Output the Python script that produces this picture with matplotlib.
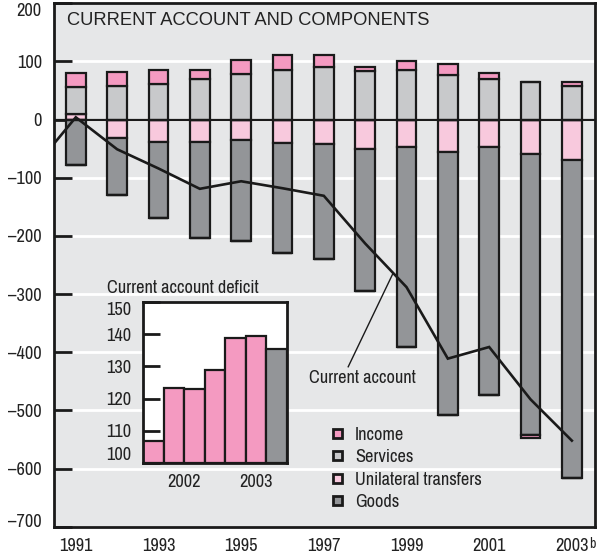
import matplotlib
matplotlib.use("Agg")
import matplotlib.pyplot as plt
from matplotlib.patches import Rectangle
import numpy as np

plt.rcParams['font.family'] = ['Archivo Narrow', 'Roboto Condensed', 'Liberation Sans', 'DejaVu Sans']
TITLE_FONT = ['Liberation Sans', 'DejaVu Sans']

# ---------------- data ----------------
years = [1991, 1992, 1993, 1994, 1995, 1996, 1997, 1998, 1999, 2000, 2001, 2002, 2003]
income = [24, 25, 24.5, 15.5, 24, 25.5, 21.5, 7, 15.5, 19, 11, -4, 5.4]
services = [46, 57, 61.5, 69, 79, 86, 90, 83, 84.5, 77, 69, 65.5, 58.6]
transfers = [10, -32, -38, -38, -35, -41, -42, -50.5, -47.7, -56, -46.5, -59, -69.5]
goods = [-78, -97.5, -132, -166, -174, -188, -198, -244, -344, -451.5, -427.5, -484, -546]

ca_years = [1990, 1991, 1992, 1993, 1994, 1995, 1996, 1997, 1998, 1999, 2000, 2001, 2002, 2003]
current_account = [-82, 4, -51, -84, -119, -106, -118, -131, -213, -288, -411, -391, -481, -552]

xtick_years = [1991, 1993, 1995, 1997, 1999, 2001, 2003]
xtick_labels = ['1991', '1993', '1995', '1997', '1999', '2001', '2003']
yticks = [-700, -600, -500, -400, -300, -200, -100, 0, 100, 200]

inset_values = [106.7, 123.3, 122.9, 128.9, 139.0, 139.6, 135.3]
inset_kinds = ['actual'] * 6 + ['estimate']
inset_yticks = [100, 110, 120, 130, 140, 150]
inset_xlabels = ['2002', '2003']
inset_xlabel_pos = [1.5, 5]

series_names = ['Income', 'Services', 'Unilateral transfers', 'Goods']

# ---------------- style ----------------
C_INCOME = '#f49ac1'
C_SERV = '#c8c9cb'
C_TRANS = '#f8c9dd'
C_GOODS = '#939598'
C_BG = '#e6e7e8'
EDGE = '#1a1a1a'
TXT = '#222222'
FS = 13.2

W, H = 606, 559
fig = plt.figure(figsize=(W / 100, H / 100), dpi=100)
L, R, T, B = 54.3, 595.0, 3.3, 526.7
ax = fig.add_axes([L / W, 1 - B / H, (R - L) / W, (B - T) / H])
ax.set_facecolor(C_BG)
ax.set_xlim(1990.48, 2003.56)
ax.set_ylim(-700, 200)

for v in yticks:
    ax.axhline(v, color='white', lw=2, zorder=0.5)
ax.axhline(0, color=EDGE, lw=1.6, zorder=3)

# stacked bars
order = [(transfers, C_TRANS), (goods, C_GOODS), (services, C_SERV), (income, C_INCOME)]
pos_base = np.zeros(len(years))
neg_base = np.zeros(len(years))
bw = 0.48
for vals, col in order:
    vals = np.array(vals, dtype=float)
    p = np.where(vals > 0, vals, 0)
    n = np.where(vals < 0, vals, 0)
    ax.bar(years, p, bottom=pos_base, width=bw, color=col, edgecolor=EDGE, lw=1.6, zorder=2)
    ax.bar(years, n, bottom=neg_base, width=bw, color=col, edgecolor=EDGE, lw=1.6, zorder=2)
    pos_base += p
    neg_base += n

ax.plot(ca_years, current_account, color=EDGE, lw=1.9, zorder=4, solid_joinstyle='miter')

# label for the line with a leader line
ax.plot([1997.59, 1998.676], [-425, -264], color=EDGE, lw=1.0, zorder=4)
ax.text(1997.94, -453, 'Current account', ha='center', va='baseline', fontsize=FS, color=TXT)

ax.text((66.7 - L) / (R - L), (B - 25) / (B - T), 'CURRENT ACCOUNT AND COMPONENTS',
        transform=ax.transAxes, fontsize=13.2, va='baseline', ha='left', color=TXT,
        family=TITLE_FONT)

ax.set_yticks(yticks)
ax.set_yticklabels([str(v).replace('-', '\u2013') for v in yticks], fontsize=FS, color=TXT)
ax.tick_params(axis='y', direction='in', length=13, width=2, color=EDGE, pad=9)
ylabs = ax.get_yticklabels()
ylabs[-1].set_va('top')
ylabs[0].set_va('baseline')
ax.set_xticks(xtick_years)
ax.set_xticklabels(xtick_labels, fontsize=FS, color=TXT)
ax.tick_params(axis='x', length=0, pad=8)
ax.text(2003.42, -717, 'b', fontsize=10, ha='left', va='top', color=TXT)
for s in ax.spines.values():
    s.set_linewidth(2)
    s.set_color(EDGE)
    s.set_zorder(5)

# legend (manual)
cols = [C_INCOME, C_SERV, C_TRANS, C_GOODS]
ycent = [433, 455.8, 478.7, 500.5]
px0 = 333.2
for name, col, yc in zip(series_names, cols, ycent):
    fig.patches.append(Rectangle((px0 / W, 1 - (yc + 4.5) / H), 9 / W, 9 / H,
                                 transform=fig.transFigure, facecolor=col,
                                 edgecolor=EDGE, lw=2.0, zorder=10))
    fig.text(355 / W, 1 - yc / H, name, fontsize=FS, va='center_baseline', ha='left', color=TXT)

# inset
iL, iR, iT, iB = 143.3, 286.7, 302.3, 462.7
iax = fig.add_axes([iL / W, 1 - iB / H, (iR - iL) / W, (iB - iT) / H])
iax.set_facecolor('white')
ix = np.arange(len(inset_values))
icol = [C_INCOME if k == 'actual' else C_GOODS for k in inset_kinds]
iax.bar(ix, np.array(inset_values) - 100, bottom=100, width=1.0, color=icol,
        edgecolor=EDGE, lw=1.6, zorder=2)
iax.set_xlim(-0.5, len(inset_values) - 0.5)
iax.set_ylim(100, 150)
iax.set_yticks(inset_yticks)
iax.set_yticklabels([str(v) for v in inset_yticks], fontsize=FS, color=TXT)
iax.tick_params(axis='y', direction='in', length=12, width=2, color=EDGE, pad=9)
labs = iax.get_yticklabels()
labs[0].set_va('bottom')
labs[-1].set_va('top')
iax.set_xticks(inset_xlabel_pos)
iax.set_xticklabels(inset_xlabels, fontsize=FS, color=TXT)
iax.tick_params(axis='x', length=0, pad=8)
for s in iax.spines.values():
    s.set_linewidth(2)
    s.set_color(EDGE)
    s.set_zorder(5)
fig.text(106.7 / W, 1 - 293 / H, 'Current account deficit', fontsize=FS, va='baseline',
         ha='left', color=TXT)

fig.savefig('out.png', dpi=100)
